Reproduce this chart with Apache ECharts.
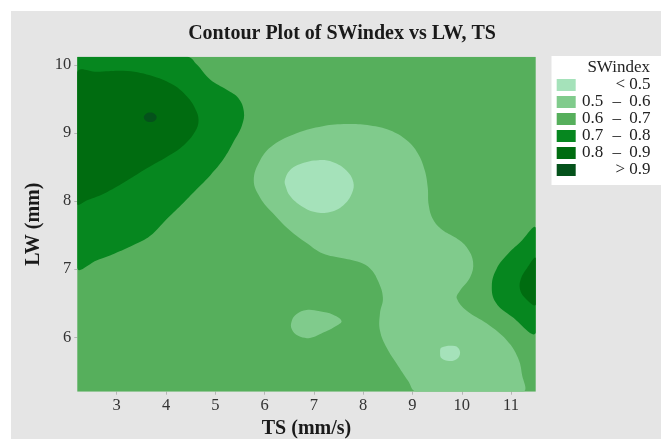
<!DOCTYPE html>
<html><head><meta charset="utf-8">
<script src="https://cdn.jsdelivr.net/npm/echarts@6/dist/echarts.min.js"></script>
<style>html,body{margin:0;padding:0;background:#fff}#c{width:661px;height:439px}</style>
</head><body><div id="c"></div>
<script>
// ---- data ----
const tsTicks = [3, 4, 5, 6, 7, 8, 9, 10, 11];
const lwTicks = [6, 7, 8, 9, 10];
const tsRange = [2.2, 11.5];
const lwRange = [5.2, 10.12];
const levels = ['< 0.5', '0.5 – 0.6', '0.6 – 0.7', '0.7 – 0.8', '0.8 – 0.9', '> 0.9'];

// contour regions in data units (TS, LW)
const domain = [[2.2,5.2],[11.5,5.2],[11.5,10.12],[2.2,10.12]];
const band78TopLeft = [[2.2,10.12],[4.43,10.12],[4.63,10.00],[4.90,9.78],[5.24,9.63],[5.47,9.51],[5.58,9.31],[5.54,9.11],[5.37,8.87],[5.17,8.62],[4.90,8.38],[4.63,8.18],[4.36,7.98],[4.02,7.74],[3.68,7.49],[3.33,7.35],[2.96,7.23],[2.60,7.13],[2.2,7.02]];
const band78Right = [[11.5,7.60],[11.18,7.39],[10.92,7.21],[10.71,7.01],[10.61,6.76],[10.69,6.51],[11.02,6.30],[11.5,6.07]];
const band89TopLeft = [[2.2,9.89],[2.60,9.90],[3.21,9.91],[3.75,9.83],[4.16,9.70],[4.43,9.53],[4.59,9.36],[4.66,9.19],[4.59,9.02],[4.36,8.82],[4.02,8.65],[3.61,8.48],[3.21,8.30],[2.80,8.13],[2.40,8.01],[2.2,7.96]];
const band89Right = [[11.5,7.16],[11.32,7.01],[11.20,6.86],[11.18,6.71],[11.28,6.58],[11.5,6.48]];
const bandGt9Peak = [[3.55,9.23],[3.59,9.28],[3.68,9.30],[3.77,9.28],[3.81,9.23],[3.77,9.18],[3.68,9.16],[3.59,9.18]];
const band56Main = [[5.78,8.30],[5.91,8.60],[6.17,8.82],[6.66,9.00],[7.18,9.10],[7.67,9.13],[8.14,9.11],[8.54,9.04],[8.89,8.89],[9.11,8.70],[9.25,8.45],[9.31,8.20],[9.33,7.94],[9.42,7.73],[9.60,7.58],[9.88,7.46],[10.10,7.32],[10.23,7.10],[10.17,6.88],[9.96,6.68],[9.90,6.57],[10.10,6.39],[10.51,6.20],[10.92,5.95],[11.14,5.70],[11.22,5.46],[11.24,5.2],[9.08,5.2],[8.91,5.36],[8.68,5.61],[8.48,5.84],[8.34,6.10],[8.34,6.35],[8.40,6.58],[8.30,6.83],[8.14,7.01],[7.93,7.10],[7.59,7.16],[7.18,7.23],[6.86,7.38],[6.51,7.57],[6.17,7.82],[5.91,8.05]];
const band56Small = [[6.55,6.24],[6.65,6.34],[6.85,6.40],[7.12,6.38],[7.39,6.33],[7.56,6.24],[7.46,6.17],[7.19,6.07],[6.92,5.99],[6.68,6.02],[6.55,6.12]];
const bandLt5Main = [[6.41,8.30],[6.51,8.45],[6.75,8.55],[7.09,8.60],[7.39,8.57],[7.66,8.45],[7.80,8.28],[7.77,8.11],[7.60,7.94],[7.33,7.84],[7.02,7.84],[6.72,7.94],[6.51,8.08],[6.43,8.21]];
const bandLt5Small = [[9.59,5.85],[9.86,5.87],[9.96,5.80],[9.93,5.70],[9.76,5.65],[9.59,5.69],[9.56,5.78]];

// ---- styling ----
const levelColor = {
  '< 0.5': '#a5e2ba',
  '0.5 – 0.6': '#80cb8c',
  '0.6 – 0.7': '#56af5c',
  '0.7 – 0.8': '#06871f',
  '0.8 – 0.9': '#006c10',
  '> 0.9': '#04521b'
};
const regionsByLevel = [
  ['0.6 – 0.7', [domain]],
  ['0.7 – 0.8', [band78TopLeft, band78Right]],
  ['0.8 – 0.9', [band89TopLeft, band89Right]],
  ['> 0.9', [bandGt9Peak]],
  ['0.5 – 0.6', [band56Main, band56Small]],
  ['< 0.5', [bandLt5Main, bandLt5Small]]
];
const serif = '"Liberation Serif", "DejaVu Serif", serif';

const series = regionsByLevel.map(([name, polys]) => ({
  type: 'custom',
  name: name,
  coordinateSystem: 'cartesian2d',
  clip: true,
  silent: true,
  itemStyle: { color: levelColor[name] },
  data: polys.map(p => [p[0][0], p[0][1]]),
  renderItem: function (params, api) {
    const poly = polys[params.dataIndex];
    const pts = poly.map(p => api.coord(p));
    const tl = api.coord([tsRange[0], lwRange[1]]);
    const br = api.coord([tsRange[1], lwRange[0]]);
    return {
      type: 'polygon',
      shape: { points: pts, smooth: poly === domain ? 0 : 0.4, smoothConstraint: [tl, br] },
      style: { fill: levelColor[name], stroke: null }
    };
  }
}));

const chart = echarts.init(document.getElementById('c'), null, { renderer: 'canvas' });
chart.setOption({
  backgroundColor: '#ffffff',
  animation: false,
  graphic: [
    { type: 'rect', z: -10, silent: true, shape: { x: 11, y: 11, width: 650, height: 428 }, style: { fill: '#e5e5e5' } },
    { type: 'rect', z: -5, silent: true, shape: { x: 551.5, y: 56, width: 110, height: 129 }, style: { fill: '#ffffff' } }
  ],
  title: [
    { text: 'Contour Plot of SWindex vs LW, TS', left: 342, top: 24, padding: 0, textAlign: 'center',
      textStyle: { fontFamily: serif, fontSize: 20, fontWeight: 'bold', color: '#1a1a1a' } },
    { text: 'SWindex', right: 11, top: 59, padding: 0,
      textStyle: { fontFamily: serif, fontSize: 17, fontWeight: 'normal', color: '#222' } }
  ],
  legend: {
    orient: 'vertical', left: 556.7, top: 76.5, padding: 0, itemGap: 0,
    itemWidth: 19, itemHeight: 12, icon: 'rect', selectedMode: false,
    data: levels,
    formatter: function (name) {
      const parts = name.split(' – ');
      if (parts.length === 2) return '{a|' + parts[0] + '}{b|–}{c|' + parts[1] + '}';
      return '{r|' + name + '}';
    },
    textStyle: {
      fontFamily: serif, fontSize: 17, color: '#222',
      rich: {
        a: { fontFamily: serif, fontSize: 17, lineHeight: 17.5, color: '#222', width: 23.6, align: 'right' },
        b: { fontFamily: serif, fontSize: 17, lineHeight: 17.5, color: '#222', width: 25, align: 'center' },
        c: { fontFamily: serif, fontSize: 17, lineHeight: 17.5, color: '#222', width: 21.3, align: 'right' },
        r: { fontFamily: serif, fontSize: 17, lineHeight: 17.5, color: '#222', width: 69.9, align: 'right' }
      }
    }
  },
  grid: { left: 77.3, top: 56.7, width: 458.4, height: 335, outerBoundsMode: 'none', containLabel: false },
  xAxis: {
    type: 'value', min: tsRange[0], max: tsRange[1],
    axisLine: { show: false }, splitLine: { show: false },
    axisTick: { show: true, customValues: tsTicks, length: 3, lineStyle: { color: '#b5b5b5' } },
    axisLabel: { customValues: tsTicks, margin: 5, fontFamily: serif, fontSize: 16.5, color: '#333' },
    name: 'TS (mm/s)', nameLocation: 'middle', nameGap: 18,
    nameTextStyle: { fontFamily: serif, fontSize: 20, fontWeight: 'bold', color: '#1a1a1a' }
  },
  yAxis: {
    type: 'value', min: lwRange[0], max: lwRange[1],
    axisLine: { show: false }, splitLine: { show: false },
    axisTick: { show: true, customValues: lwTicks, length: 3, lineStyle: { color: '#b5b5b5' } },
    axisLabel: { customValues: lwTicks, margin: 6, fontFamily: serif, fontSize: 16.5, color: '#333' },
    name: 'LW (mm)', nameLocation: 'middle', nameGap: 32.5,
    nameTextStyle: { fontFamily: serif, fontSize: 20, fontWeight: 'bold', color: '#1a1a1a' }
  },
  series: series
});
</script></body></html>
